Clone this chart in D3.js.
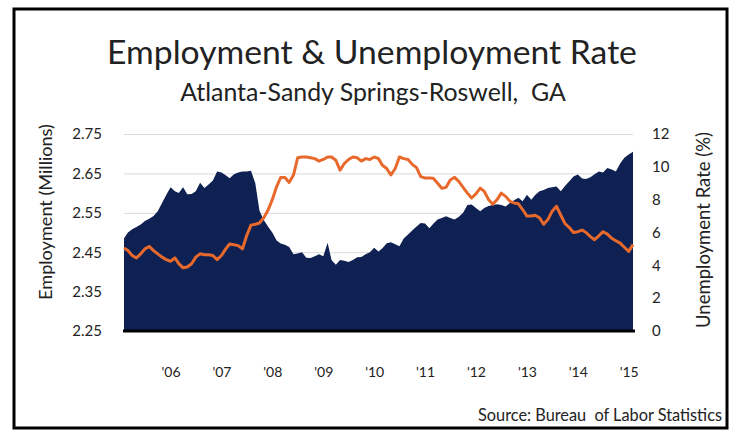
<!DOCTYPE html>
<html><head><meta charset="utf-8">
<script src="https://cdn.jsdelivr.net/npm/d3@7"></script>
<style>
body{margin:0;background:#fff}
svg{display:block}
text{font-family:Lato,"Open Sans",sans-serif;fill:#222}
</style>
</head><body>
<svg id="chart" width="737" height="438"></svg>
<script>
// ---- data ----
const firstMonth = "2005-02";
const lastMonth = "2015-02";
const yearTicks = ["2006","2007","2008","2009","2010","2011","2012","2013","2014","2015"];
const yearLabels = ["'06","'07","'08","'09","'10","'11","'12","'13","'14","'15"];
const employmentTicks = [2.25,2.35,2.45,2.55,2.65,2.75];
const rateTicks = [0,2,4,6,8,10,12];
// Employment (millions), monthly
const employment = [2.485,2.50,2.508,2.514,2.52,2.529,2.535,2.542,2.554,2.575,
2.595,2.615,2.605,2.60,2.615,2.597,2.598,2.605,2.626,2.613,
2.622,2.632,2.655,2.652,2.645,2.638,2.648,2.652,2.655,2.655,
2.657,2.625,2.555,2.532,2.515,2.50,2.48,2.472,2.469,2.463,
2.445,2.447,2.45,2.436,2.435,2.44,2.445,2.44,2.474,2.43,
2.418,2.43,2.428,2.425,2.43,2.437,2.438,2.445,2.45,2.461,
2.452,2.46,2.473,2.475,2.47,2.465,2.485,2.495,2.505,2.515,
2.524,2.523,2.511,2.522,2.533,2.537,2.541,2.537,2.533,2.54,
2.55,2.57,2.571,2.562,2.554,2.562,2.567,2.57,2.572,2.57,
2.566,2.575,2.582,2.588,2.579,2.596,2.583,2.595,2.605,2.608,
2.613,2.615,2.617,2.605,2.618,2.63,2.642,2.647,2.637,2.636,
2.64,2.648,2.655,2.652,2.664,2.66,2.655,2.675,2.69,2.698,
2.705];
// Unemployment rate (%), monthly
const unemployment = [5.05,4.9,4.6,4.45,4.7,5.0,5.15,4.9,4.7,4.5,
4.35,4.25,4.45,4.1,3.85,3.9,4.1,4.5,4.7,4.65,
4.65,4.6,4.35,4.6,5.0,5.3,5.25,5.2,5.0,5.8,
6.45,6.5,6.58,6.9,7.35,8.0,8.8,9.35,9.35,9.05,
9.5,10.55,10.6,10.6,10.55,10.5,10.35,10.45,10.6,10.6,
10.4,9.8,10.2,10.45,10.6,10.55,10.35,10.5,10.45,10.6,
10.5,10.1,9.9,9.5,9.9,10.6,10.5,10.45,10.15,9.95,
9.4,9.32,9.32,9.3,9.0,8.7,8.75,9.2,9.36,9.1,
8.75,8.4,8.1,8.35,8.7,8.5,8.0,7.73,8.0,8.4,
8.2,7.9,7.8,7.75,7.4,7.0,7.0,7.05,6.9,6.5,
6.8,7.3,7.6,7.05,6.55,6.3,6.0,6.05,6.15,6.0,
5.75,5.56,5.8,6.05,5.9,5.65,5.5,5.35,5.1,4.85,
5.26];

// ---- layout ----
const plot = {left:124, right:633, top:134, bottom:331};
const navy = "#0f2152", orange = "#e8692c";

const parseM = d3.timeParse("%Y-%m");
const parseY = d3.timeParse("%Y");
const months = d3.timeMonth.range(parseM(firstMonth), d3.timeMonth.offset(parseM(lastMonth),1));
const empData = months.map((m,i)=>({date:m, v:employment[i]})).filter(d=>d.v!=null);
const rateData = months.map((m,i)=>({date:m, v:unemployment[i]})).filter(d=>d.v!=null);

const svg = d3.select("#chart");

const x = d3.scaleTime().domain([parseM(firstMonth), parseM(lastMonth)]).range([plot.left, plot.right]);
const yE = d3.scaleLinear().domain([2.25,2.75]).range([plot.bottom, plot.top]);
const yR = d3.scaleLinear().domain([0,12]).range([plot.bottom, plot.top]);

// frame
svg.append("rect").attr("x",14).attr("y",9).attr("width",713).attr("height",419)
  .attr("fill","none").attr("stroke","#000").attr("stroke-width",3);

// gridlines
const grid = svg.append("g").attr("transform",`translate(${plot.left},0)`)
  .call(d3.axisLeft(yE).tickValues(employmentTicks).tickSize(-(plot.right-plot.left)).tickFormat(""));
grid.select(".domain").remove();
grid.selectAll("line").attr("stroke","#d9d9d9").attr("stroke-width",1);

// employment area
svg.append("path").datum(empData)
  .attr("fill",navy)
  .attr("d", d3.area().x(d=>x(d.date)).y0(yE(2.25)).y1(d=>yE(d.v)));

// unemployment line
svg.append("path").datum(rateData)
  .attr("fill","none").attr("stroke",orange).attr("stroke-width",3).attr("stroke-linejoin","round")
  .attr("d", d3.line().x(d=>x(d.date)).y(d=>yR(d.v)));

// baseline
svg.append("line").attr("x1",plot.left-1).attr("x2",plot.right+2)
  .attr("y1",plot.bottom).attr("y2",plot.bottom).attr("stroke","#000").attr("stroke-width",3);

// left axis
const la = svg.append("g").attr("transform",`translate(${plot.left},0)`)
  .call(d3.axisLeft(yE).tickValues(employmentTicks).tickFormat(d3.format(".2f")).tickSize(0).tickPadding(22));
la.select(".domain").remove();
la.selectAll("text").style("font-size","15px").style("font-family","Lato").attr("fill","#222");

// right axis
const ra = svg.append("g").attr("transform",`translate(${plot.right},0)`)
  .call(d3.axisRight(yR).tickValues(rateTicks).tickSize(0).tickPadding(19));
ra.select(".domain").remove();
ra.selectAll("text").style("font-size","15px").style("font-family","Lato").attr("fill","#222");

// bottom axis
const ba = svg.append("g").attr("transform",`translate(0,${plot.bottom})`)
  .call(d3.axisBottom(x).tickValues(yearTicks.map(parseY)).tickFormat((d,i)=>yearLabels[i]).tickSize(0).tickPadding(36));
ba.select(".domain").remove();
ba.selectAll("text").style("font-size","14px").style("font-family","Lato").attr("fill","#222");

function fit(sel, w){ const l = sel.node().getComputedTextLength(); const fs = parseFloat(sel.style("font-size")); sel.style("font-size",(fs*w/l)+"px"); }

// axis titles
const yl = svg.append("text").attr("transform","translate(45,212) rotate(-90)")
  .attr("text-anchor","middle").attr("dominant-baseline","central")
  .style("font-size","16px").text("Employment (Millions)");
fit(yl, 176);
const yr = svg.append("text").attr("transform","translate(703,230) rotate(-90)")
  .attr("text-anchor","middle").attr("dominant-baseline","central")
  .style("font-size","16px").text("Unemployment Rate (%)");
fit(yr, 196);

// titles
const t1 = svg.append("text").attr("x",372).attr("y",64).attr("text-anchor","middle")
  .style("font-size","34px").text("Employment & Unemployment Rate");
fit(t1, 530);
const t2 = svg.append("text").attr("x",373).attr("y",101).attr("text-anchor","middle")
  .attr("xml:space","preserve")
  .style("font-size","22px").text("Atlanta-Sandy Springs-Roswell,  GA");
fit(t2, 386);

const src = svg.append("text").attr("x",722).attr("y",421).attr("text-anchor","end")
  .attr("xml:space","preserve")
  .style("font-size","14px").text("Source: Bureau  of Labor Statistics");
fit(src, 244);
</script>
</body></html>
